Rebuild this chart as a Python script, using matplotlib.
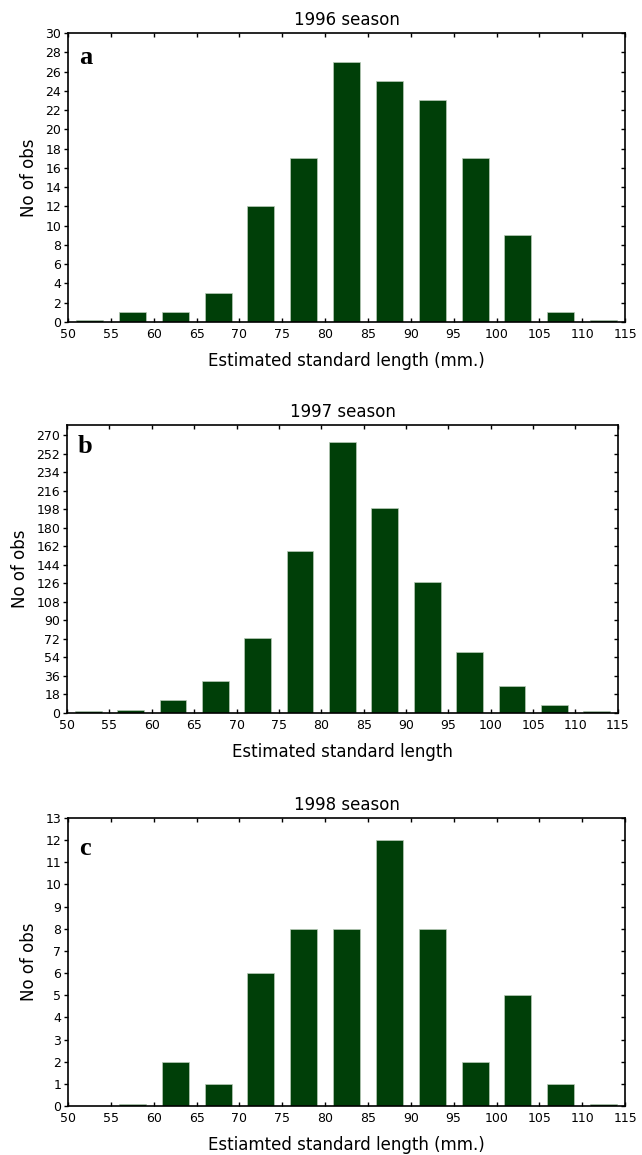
import numpy as np
import matplotlib
matplotlib.use("Agg")
import matplotlib.pyplot as plt

plt.rcParams['font.family'] = ['DejaVu Sans']

# bin left edges, 5 mm wide bins
bin_edges = np.arange(50, 115, 5)
x_ticks = np.arange(50, 120, 5)

counts_1996 = [0, 1, 1, 3, 12, 17, 27, 25, 23, 17, 9, 1, 0]
counts_1997 = [2, 3, 13, 31, 73, 157, 263, 199, 127, 59, 26, 8, 2]
counts_1998 = [np.nan, 0, 2, 1, 6, 8, 8, 12, 8, 2, 5, 1, 0]

titles = ["1996 season", "1997 season", "1998 season"]
xlabels = ["Estimated standard length (mm.)",
           "Estimated standard length",
           "Estiamted standard length (mm.)"]
panel_letters = ["a", "b", "c"]
y_ticks = [np.arange(0, 31, 2), np.arange(0, 271, 18), np.arange(0, 14, 1)]
y_max = [30, 280, 13]

bar_color = "#003f08"

# axes boxes in figure fractions (left, bottom, width, height)
boxes = [(0.106, 0.7212, 0.8676, 0.2502),
         (0.1044, 0.3827, 0.858, 0.2494),
         (0.106, 0.0424, 0.8676, 0.2494)]
letter_y = [0.893, 0.903, 0.872]

fig = plt.figure(figsize=(6.42, 11.55), dpi=100)

all_counts = [counts_1996, counts_1997, counts_1998]
for i in range(3):
    ax = fig.add_axes(boxes[i])
    c = np.array(all_counts[i], dtype=float)
    # zero counts are shown as a thin sliver like in the original plot
    shown = np.where(c == 0, y_max[i] * 0.006, c)
    ax.bar(bin_edges + 2.5, shown, width=3.15, color=bar_color,
           edgecolor="#b9cbb9", linewidth=0.5)
    ax.set_xlim(50, 115)
    ax.set_ylim(0, y_max[i])
    ax.set_xticks(x_ticks)
    ax.set_yticks(y_ticks[i])
    ax.tick_params(axis="x", direction="in", top=True, length=3, width=1,
                   labelsize=9, pad=4)
    ax.tick_params(axis="y", direction="out", length=3, width=1,
                   labelsize=9, pad=2)
    ax.tick_params(axis="y", which="both", right=True)
    for t in ax.yaxis.get_major_ticks():
        t.tick2line.set_marker(matplotlib.lines.TICKLEFT)
    for s in ax.spines.values():
        s.set_linewidth(1.2)
    ax.set_title(titles[i], fontsize=12, pad=6)
    ax.set_xlabel(xlabels[i], fontsize=12, labelpad=8)
    ax.set_ylabel("No of obs", fontsize=12, labelpad=5)
    ax.text(0.02, letter_y[i], panel_letters[i], transform=ax.transAxes,
            fontsize=19, fontweight="bold", family="Liberation Serif",
            ha="left", va="baseline")

fig.savefig("out.png", dpi=100)
